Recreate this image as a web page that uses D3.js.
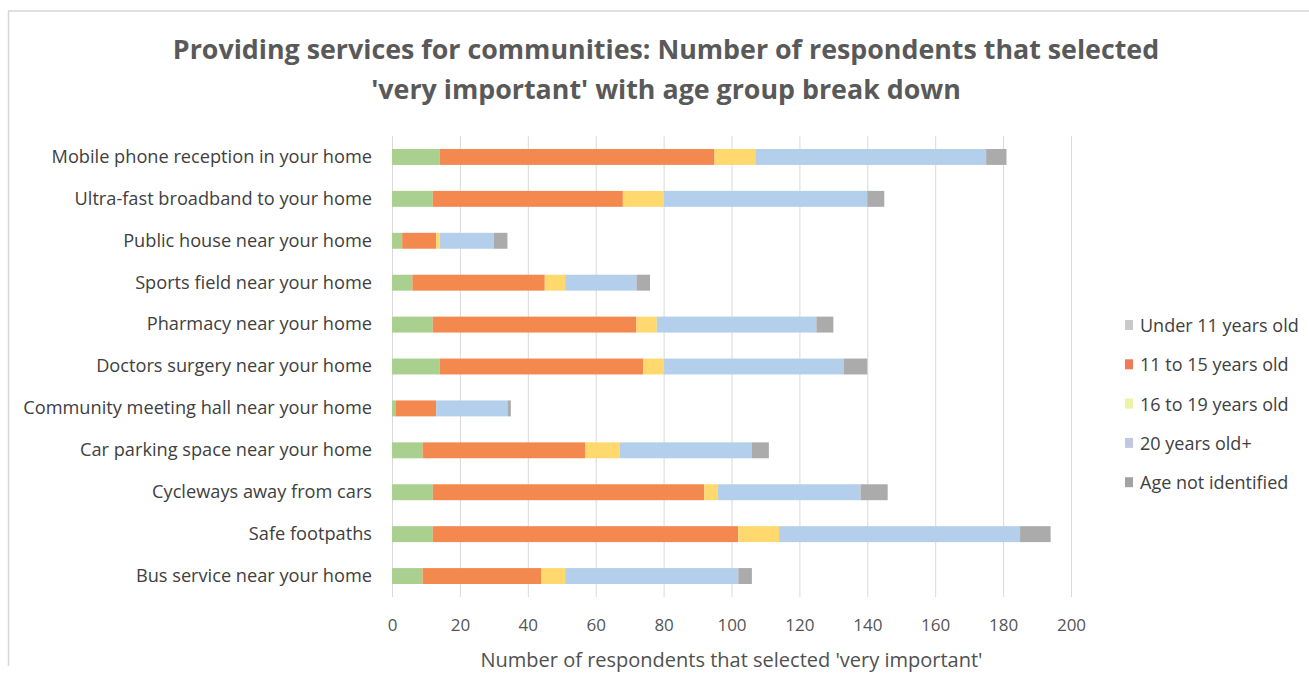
<!DOCTYPE html>
<html>
<head>
<meta charset="utf-8">
<script src="https://cdn.jsdelivr.net/npm/d3@7"></script>
<style>
  html, body { margin: 0; padding: 0; background: #ffffff; }
  svg { display: block; font-family: "Open Sans", "Noto Sans", sans-serif; }
</style>
</head>
<body>
<svg id="chart" width="1309" height="691"></svg>
<script>
// Services, listed top to bottom as drawn
const categories = [
  "Mobile phone reception in your home",
  "Ultra-fast broadband to your home",
  "Public house near your home",
  "Sports field near your home",
  "Pharmacy near your home",
  "Doctors surgery near your home",
  "Community meeting hall near your home",
  "Car parking space near your home",
  "Cycleways away from cars",
  "Safe footpaths",
  "Bus service near your home"
];

// Respondents selecting 'very important', per age group
const under11      = [14, 12, 3, 6, 12, 14, 1, 9, 12, 12, 9];
const age11to15    = [81, 56, 10, 39, 60, 60, 12, 48, 80, 90, 35];
const age16to19    = [12, 12, 1, 6, 6, 6, 0, 10, 4, 12, 7];
const age20plus    = [68, 60, 16, 21, 47, 53, 21, 39, 42, 71, 51];
const ageUnknown   = [6, 5, 4, 4, 5, 7, 1, 5, 8, 9, 4];

const seriesNames = ["Under 11 years old", "11 to 15 years old", "16 to 19 years old", "20 years old+", "Age not identified"];
const seriesValues = [under11, age11to15, age16to19, age20plus, ageUnknown];
const barColors = ["#a9d08e", "#f4894f", "#ffd96e", "#b4cfeb", "#ababab"];
const legendColors = ["#c9c9c9", "#f07a55", "#eef2a6", "#c3c8e2", "#a3a3a3"];

const xTicks = [0, 20, 40, 60, 80, 100, 120, 140, 160, 180, 200];

const svg = d3.select("#chart");

// Frame lines along the top and left edges
svg.append("line").attr("x1", 8).attr("x2", 1309).attr("y1", 11).attr("y2", 11)
  .attr("stroke", "#d6d6d6").attr("stroke-width", 1.5);
svg.append("line").attr("x1", 8.5).attr("x2", 8.5).attr("y1", 11).attr("y2", 666)
  .attr("stroke", "#d6d6d6").attr("stroke-width", 1.5);

const margin = { left: 392, right: 1071, top: 136, bottom: 597 };

const x = d3.scaleLinear().domain([0, 200]).range([margin.left, margin.right]);
const y = d3.scaleBand().domain(categories).range([margin.top, margin.bottom]).paddingInner(0.62).paddingOuter(0.31);

// Vertical gridlines
svg.append("g").selectAll("line").data(xTicks).join("line")
  .attr("x1", d => x(d) + 0.5).attr("x2", d => x(d) + 0.5)
  .attr("y1", margin.top).attr("y2", margin.bottom)
  .attr("stroke", "#d9d9d9").attr("stroke-width", 1);

// Stack the age groups
const rows = categories.map((c, i) => {
  const r = { category: c };
  seriesNames.forEach((s, k) => { r[s] = seriesValues[k][i]; });
  return r;
});
const stacked = d3.stack().keys(seriesNames)(rows);

svg.append("g").selectAll("g").data(stacked).join("g")
  .attr("fill", (d, i) => barColors[i])
  .selectAll("rect").data(d => d).join("rect")
  .attr("x", d => x(d[0]))
  .attr("width", d => Math.max(0, x(d[1]) - x(d[0])))
  .attr("y", d => y(d.data.category))
  .attr("height", y.bandwidth());

// Category labels
const yAxis = svg.append("g")
  .attr("transform", `translate(${margin.left - 20},0)`)
  .call(d3.axisLeft(y).tickSize(0).tickPadding(0));
yAxis.select(".domain").remove();
yAxis.selectAll("text")
  .attr("font-size", 18.2).attr("fill", "#404040")
  .attr("font-family", "'Open Sans', sans-serif");

// Value axis labels
const xAxis = svg.append("g")
  .attr("transform", `translate(0,${margin.bottom + 17})`)
  .call(d3.axisBottom(x).tickValues(xTicks).tickSize(0).tickPadding(5));
xAxis.select(".domain").remove();
xAxis.selectAll("text")
  .attr("font-size", 17).attr("fill", "#555555")
  .attr("font-family", "'Open Sans', sans-serif");

// Axis title
svg.append("text")
  .attr("x", (margin.left + margin.right) / 2).attr("y", 667)
  .attr("text-anchor", "middle")
  .attr("font-size", 20).attr("fill", "#505050")
  .text("Number of respondents that selected 'very important'");

// Chart title
const title = svg.append("text")
  .attr("text-anchor", "middle")
  .attr("font-size", 26.8).attr("font-weight", "bold").attr("fill", "#595959");
title.append("tspan").attr("x", 666).attr("y", 59)
  .text("Providing services for communities: Number of respondents that selected");
title.append("tspan").attr("x", 666).attr("y", 99)
  .text("'very important' with age group break down");

// Legend
const legend = svg.append("g");
seriesNames.forEach((name, i) => {
  const ly = 326 + i * 39.3;
  legend.append("rect")
    .attr("x", 1125).attr("y", ly - 6).attr("width", 8).attr("height", 10)
    .attr("fill", legendColors[i]);
  legend.append("text")
    .attr("x", 1140).attr("y", ly + 6)
    .attr("font-size", 18).attr("fill", "#404040")
    .text(name);
});
</script>
</body>
</html>
